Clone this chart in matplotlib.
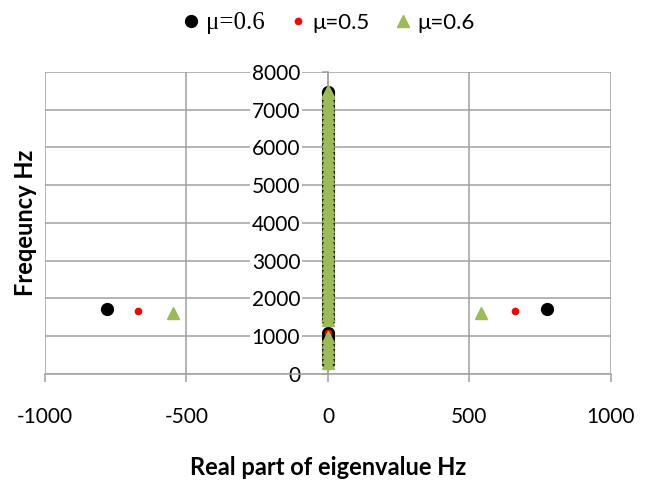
import numpy as np
import matplotlib.pyplot as plt

plt.rcParams['font.family'] = ['Lato', 'DejaVu Sans']
plt.rcParams['axes.unicode_minus'] = False

# eigenvalues on the imaginary axis (real part 0), frequency in Hz
black_stack_hz = [290, 420, 560, 690, 820, 950, 1090, 1420, 1540, 1660,
                  1790, 1910, 2040, 2160, 2290, 2410, 2540, 2660, 2790, 2910,
                  3040, 3160, 3290, 3410, 3540, 3660, 3790, 3910, 4040, 4160,
                  4290, 4410, 4540, 4660, 4790, 4910, 5040, 5160, 5290, 5410,
                  5540, 5660, 5790, 5910, 6040, 6160, 6290, 6410, 6540, 6660,
                  6790, 6910, 7040, 7160, 7290, 7410, 7480]
red_stack_hz = [300, 430, 570, 700, 830, 960, 1080, 1430, 1550, 1670,
                1800, 1920, 2050, 2170, 2300, 2420, 2550, 2670, 2800, 2920,
                3050, 3170, 3300, 3420, 3550, 3670, 3800, 3920, 4050, 4170,
                4300, 4420, 4550, 4670, 4800, 4920, 5050, 5170, 5300, 5420,
                5550, 5670, 5800, 5920, 6050, 6170, 6300, 6420, 6550, 6670,
                6800, 6920, 7050, 7170, 7300, 7420, 7470]
green_stack_hz = [300, 440, 580, 710, 840, 970, 1440, 1560, 1680,
                  1810, 1930, 2060, 2180, 2310, 2430, 2560, 2680, 2810, 2930,
                  3060, 3180, 3310, 3430, 3560, 3680, 3810, 3930, 4060, 4180,
                  4310, 4430, 4560, 4680, 4810, 4930, 5060, 5180, 5310, 5430,
                  5560, 5680, 5810, 5930, 6060, 6180, 6310, 6430, 6560, 6680,
                  6810, 6930, 7060, 7180, 7310, 7430, 7500]

# complex pair off the axis
black_pair_re = [-782, 775]
black_pair_hz = [1720, 1720]
red_pair_re = [-672, 662]
red_pair_hz = [1670, 1670]
green_pair_re = [-549, 542]
green_pair_hz = [1615, 1615]

labels = ['μ=0.6', 'μ=0.5', 'μ=0.6']

fig = plt.figure(figsize=(6.52, 4.83), dpi=100)
ax = fig.add_axes([0.069, 0.2257, 0.868, 0.6253])

grid_c = '#a0a0a0'

ax.plot(np.zeros(len(black_stack_hz)), black_stack_hz, 'o', color='black', ms=8.5, zorder=3)
ax.plot(black_pair_re, black_pair_hz, 'o', color='black', ms=8.5, zorder=3, label=labels[0])
ax.plot(np.zeros(len(red_stack_hz)), red_stack_hz, 'o', color='#ff0000', ms=4.5, zorder=4)
ax.plot(red_pair_re, red_pair_hz, 'o', color='#ff0000', ms=4.5, zorder=4, label=labels[1])
ax.plot(np.zeros(len(green_stack_hz)), green_stack_hz, '^', color='#9bbb59', ms=8.5, zorder=5)
ax.plot(green_pair_re, green_pair_hz, '^', color='#9bbb59', ms=8.5, zorder=5, label=labels[2])

ax.set_xlim(-1000, 1000)
ax.set_ylim(0, 8000)
ax.set_xticks(np.arange(-1000, 1001, 500))
ax.set_yticks(np.arange(0, 8001, 1000))
ax.grid(True, color=grid_c, lw=1.1, zorder=0)
ax.set_axisbelow(True)

ax.spines['left'].set_position(('data', 0))
ax.spines['right'].set_visible(False)
ax.spines['top'].set_visible(False)
for s in ['left', 'bottom']:
    ax.spines[s].set_color(grid_c)
    ax.spines[s].set_linewidth(1.1)

ax.tick_params(axis='x', length=6, color=grid_c, width=1.1, pad=18, labelsize=15)
ax.tick_params(axis='y', length=4, color=grid_c, width=1.1, pad=16, labelsize=15)
for lbl in ax.get_yticklabels():
    lbl.set_bbox(dict(facecolor='white', edgecolor='none', pad=1))

ax.set_xlabel('Real part of eigenvalue Hz', fontweight='bold', fontsize=17, va='center')
ax.xaxis.set_label_coords(0.5, -0.311)
ax.set_ylabel('Freqeuncy Hz', fontweight='bold', fontsize=17, va='center')
ax.yaxis.set_label_coords(-0.034, 0.5)

leg = fig.legend(loc='center', bbox_to_anchor=(0.502, 0.953), ncol=3, frameon=False,
                 fontsize=16, handletextpad=0.15, columnspacing=1.0, handlelength=1.0)
leg.get_texts()[0].set_family('Liberation Serif')
leg.get_texts()[0].set_fontsize(18)

fig.savefig('out.png', dpi=100)
